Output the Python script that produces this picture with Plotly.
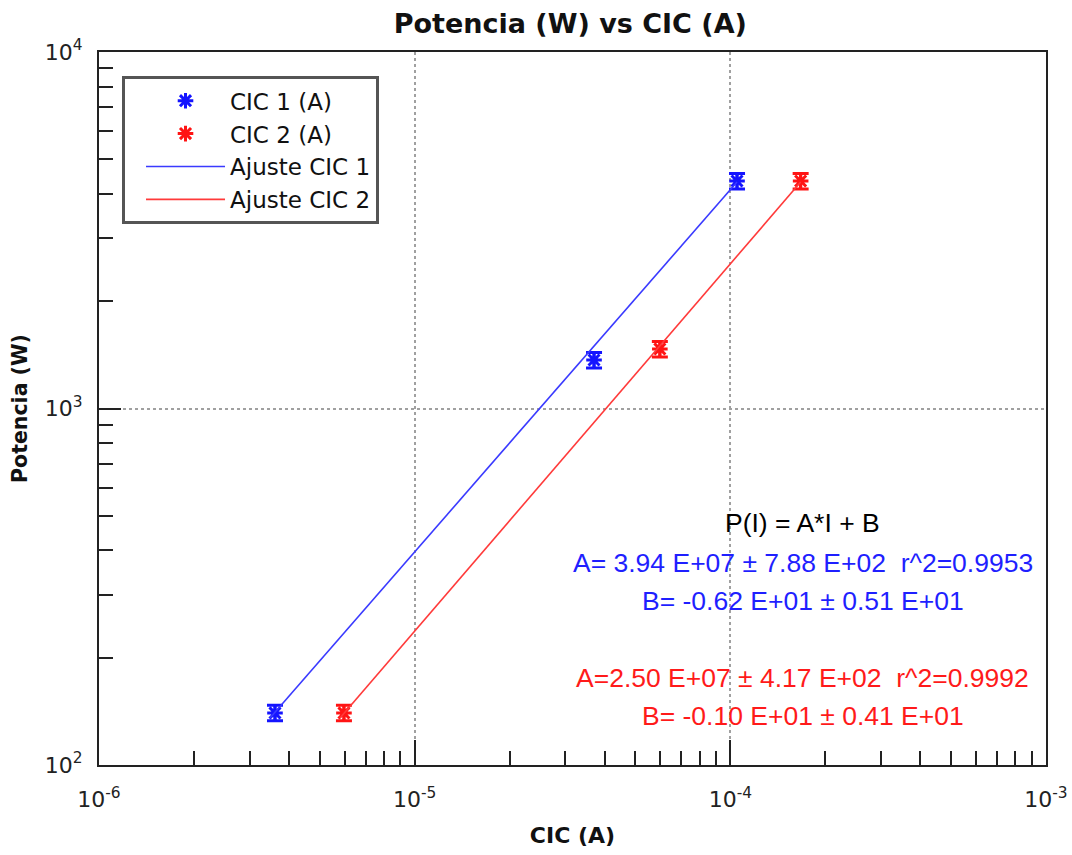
import plotly.graph_objects as go

# ---- data ----
cic1_x = [3.61e-6, 3.70e-5, 1.05e-4]
cic1_y = [140, 1368, 4347]
cic2_x = [5.97e-6, 5.98e-5, 1.67e-4]
cic2_y = [140, 1469, 4347]
fit1_x = [3.48e-6, 1.05e-4]
fit1_y = [135.5, 4317]
fit2_x = [5.80e-6, 1.67e-4]
fit2_y = [135.5, 4317]
err_pct = 5

x_tickvals = [1e-6, 1e-5, 1e-4, 1e-3]
x_ticktext = ["10<sup>-6</sup>", "10<sup>-5</sup>", "10<sup>-4</sup>", "10<sup>-3</sup>"]
y_tickvals = [1e2, 1e3, 1e4]
y_ticktext = ["10<sup>2</sup>", "10<sup>3</sup>", "10<sup>4</sup>"]

fit_text = [
    ("P(I) = A*I + B", "#000000"),
    ("A= 3.94 E+07 ± 7.88 E+02  r^2=0.9953", "#1f1fff"),
    ("B= -0.62 E+01 ± 0.51 E+01", "#1f1fff"),
    ("A=2.50 E+07 ± 4.17 E+02  r^2=0.9992", "#ff1a1a"),
    ("B= -0.10 E+01 ± 0.41 E+01", "#ff1a1a"),
]
fit_text_y = [0.3394, 0.2833, 0.2300, 0.1220, 0.0687]

BLUE = "#1414ff"
RED = "#ff1414"
FONT = "DejaVu Sans"

fig = go.Figure()
fig.add_trace(go.Scatter(
    x=cic1_x, y=cic1_y, mode="markers", name="CIC 1 (A)",
    marker=dict(symbol="asterisk-open", size=13, color=BLUE, line=dict(color=BLUE, width=3)),
    error_y=dict(type="percent", value=err_pct, color=BLUE, thickness=3, width=8),
))
fig.add_trace(go.Scatter(
    x=cic2_x, y=cic2_y, mode="markers", name="CIC 2 (A)",
    marker=dict(symbol="asterisk-open", size=13, color=RED, line=dict(color=RED, width=3)),
    error_y=dict(type="percent", value=err_pct, color=RED, thickness=3, width=8),
))
fig.add_trace(go.Scatter(
    x=fit1_x, y=fit1_y, mode="lines", name="Ajuste CIC 1",
    line=dict(color="#3a3aff", width=1.6),
))
fig.add_trace(go.Scatter(
    x=fit2_x, y=fit2_y, mode="lines", name="Ajuste CIC 2",
    line=dict(color="#ff3a3a", width=1.6),
))

for (txt, col), yy in zip(fit_text, fit_text_y):
    fig.add_annotation(
        x=0.743, y=yy, xref="paper", yref="paper", text=txt, showarrow=False,
        xanchor="center", yanchor="middle",
        font=dict(family="Liberation Sans", size=26.5, color=col),
    )

def minor_vals(lo, hi):
    vals = []
    for e in range(lo, hi):
        for d in range(2, 10):
            vals.append(d * 10 ** e)
    return vals

axis_common = dict(
    showline=True, linecolor="#222222", linewidth=2, mirror=True,
    ticks="inside", tickcolor="#222222", tickwidth=2,
    showgrid=True, gridcolor="#a0a0a0", griddash="dot", gridwidth=1.5,
    zeroline=False, automargin=False,
    tickfont=dict(family=FONT, size=22, color="#222222"),
)

fig.update_xaxes(
    type="log", range=[-6, -3], tickmode="array", tickvals=x_tickvals, ticktext=x_ticktext,
    ticklen=25, ticklabelstandoff=14,
    minor=dict(ticks="inside", ticklen=14, tickwidth=2, tickcolor="#222222",
               tickmode="array", tickvals=minor_vals(-6, -3), showgrid=False),
    title=dict(text="<b>CIC (A)</b>", font=dict(family=FONT, size=22, color="#111111"), standoff=16),
    **axis_common,
)
fig.update_yaxes(
    type="log", range=[2, 4], tickmode="array", tickvals=y_tickvals, ticktext=y_ticktext,
    ticklen=22, ticklabelstandoff=10,
    minor=dict(ticks="inside", ticklen=14, tickwidth=2, tickcolor="#222222",
               tickmode="array", tickvals=minor_vals(2, 4), showgrid=False),
    title=dict(text="<b>Potencia (W)</b>", font=dict(family=FONT, size=20.5, color="#111111"), standoff=12),
    **axis_common,
)

fig.update_layout(
    width=1072, height=855,
    margin=dict(l=99, r=26, t=52, b=90),
    paper_bgcolor="white", plot_bgcolor="white",
    title=dict(text="<b>Potencia (W) vs CIC (A)</b>", x=0.532, xanchor="center", y=0.972, yanchor="middle",
               font=dict(family=FONT, size=27, color="#111111")),
    legend=dict(
        x=0.0243, y=0.966, xanchor="left", yanchor="top",
        bgcolor="white", bordercolor="#555555", borderwidth=3,
        font=dict(family=FONT, size=23, color="#111111"),
        indentation=16, itemwidth=79,
    ),
    showlegend=True,
)

fig.write_html("out.html")
